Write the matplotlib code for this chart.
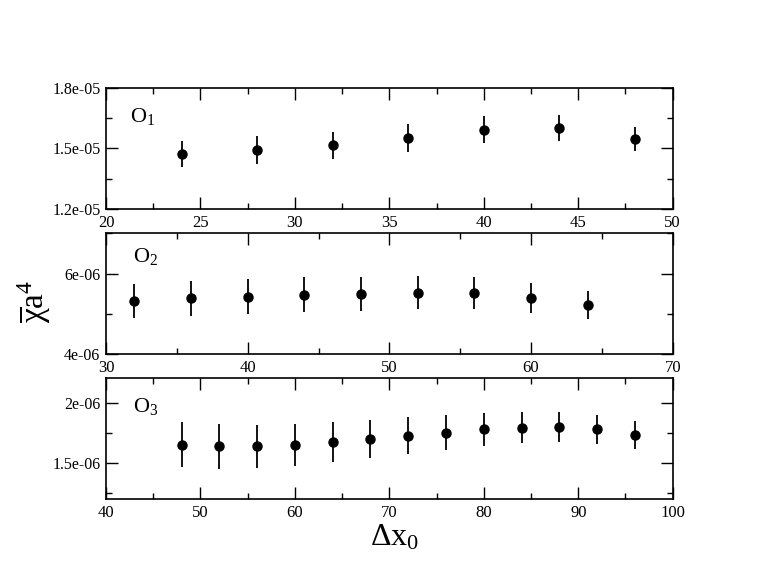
import numpy as np
import matplotlib
matplotlib.use("Agg")
import matplotlib.pyplot as plt
from matplotlib.ticker import MultipleLocator, FormatStrFormatter

# panel O1
dx_o1 = [24, 28, 32, 36, 40, 44, 48]
val_o1 = [1.472e-05, 1.492e-05, 1.515e-05, 1.551e-05, 1.592e-05, 1.601e-05, 1.545e-05]
err_o1 = [0.66e-06, 0.68e-06, 0.68e-06, 0.70e-06, 0.67e-06, 0.64e-06, 0.60e-06]

# panel O2
dx_o2 = [32, 36, 40, 44, 48, 52, 56, 60, 64]
val_o2 = [5.32e-06, 5.39e-06, 5.43e-06, 5.48e-06, 5.50e-06, 5.53e-06, 5.52e-06, 5.40e-06, 5.22e-06]
err_o2 = [0.42e-06, 0.43e-06, 0.43e-06, 0.44e-06, 0.42e-06, 0.405e-06, 0.39e-06, 0.37e-06, 0.35e-06]

# panel O3
dx_o3 = [48, 52, 56, 60, 64, 68, 72, 76, 80, 84, 88, 92, 96]
val_o3 = [1.651e-06, 1.637e-06, 1.637e-06, 1.651e-06, 1.670e-06, 1.698e-06, 1.727e-06,
          1.752e-06, 1.777e-06, 1.793e-06, 1.799e-06, 1.777e-06, 1.733e-06]
err_o3 = [0.187e-06, 0.187e-06, 0.177e-06, 0.173e-06, 0.165e-06, 0.160e-06, 0.151e-06,
          0.145e-06, 0.135e-06, 0.130e-06, 0.125e-06, 0.120e-06, 0.117e-06]

panel_names = ["O$_1$", "O$_2$", "O$_3$"]

plt.rcParams['font.family'] = ['Liberation Serif', 'DejaVu Serif']
plt.rcParams['mathtext.fontset'] = 'custom'
plt.rcParams['mathtext.rm'] = 'Liberation Serif'
plt.rcParams['mathtext.it'] = 'Liberation Serif:italic'
plt.rcParams['mathtext.bf'] = 'Liberation Serif:bold'

fig = plt.figure(figsize=(7.61, 5.88), dpi=100)

# axes boxes (left, bottom, width, height) in figure fractions
boxes = [
    [0.1393, 0.6446, 0.7447, 0.2063],
    [0.1393, 0.3974, 0.7447, 0.2058],
    [0.1393, 0.1509, 0.7447, 0.2057],
]
xlims = [(20, 50), (30, 70), (40, 100)]
ylims = [(1.2e-05, 1.8e-05), (4e-06, 7e-06), (1.2e-06, 2.2e-06)]
xmaj = [5, 10, 10]
xmin = [2.5, 5, 5]
ymaj = [3e-06, 2e-06, 5e-07]
ymin = [1.5e-06, 1e-06, 2.5e-07]
label_pos = [(0.042, 0.72), (0.047, 0.765), (0.047, 0.724)]

data = [(dx_o1, val_o1, err_o1), (dx_o2, val_o2, err_o2), (dx_o3, val_o3, err_o3)]

for i in range(3):
    ax = fig.add_axes(boxes[i])
    x, y, e = data[i]
    ax.errorbar(x, y, yerr=e, fmt='o', color='black', markersize=6.5,
                elinewidth=1.3, capsize=0)
    ax.set_xlim(*xlims[i])
    ax.set_ylim(*ylims[i])
    ax.xaxis.set_major_locator(MultipleLocator(xmaj[i]))
    ax.xaxis.set_minor_locator(MultipleLocator(xmin[i]))
    ax.yaxis.set_major_locator(MultipleLocator(ymaj[i]))
    ax.yaxis.set_minor_locator(MultipleLocator(ymin[i]))
    ax.yaxis.set_major_formatter(FormatStrFormatter('%g'))
    ax.xaxis.set_major_formatter(FormatStrFormatter('%g'))
    ax.tick_params(which='both', direction='in', top=True, right=True, width=1.0)
    ax.tick_params(axis='x', labelsize=12)
    ax.tick_params(axis='y', labelsize=11.5)
    ax.tick_params(which='major', length=8.4, pad=4)
    ax.tick_params(which='minor', length=4.5)
    for s in ax.spines.values():
        s.set_linewidth(1.2)
    ax.text(label_pos[i][0], label_pos[i][1], panel_names[i], transform=ax.transAxes,
            fontsize=16, ha='left', va='baseline')

fig.text(0.045, 0.487, r'$\overline{\mathrm{\chi}}\mathrm{a}^4$', rotation=90,
         fontsize=24, ha='center', va='center')
fig.text(395 / 761, 1 - 546 / 588, r'$\Delta\mathrm{x}_0$', fontsize=23,
         ha='center', va='baseline')

fig.savefig('out.png', dpi=100)
